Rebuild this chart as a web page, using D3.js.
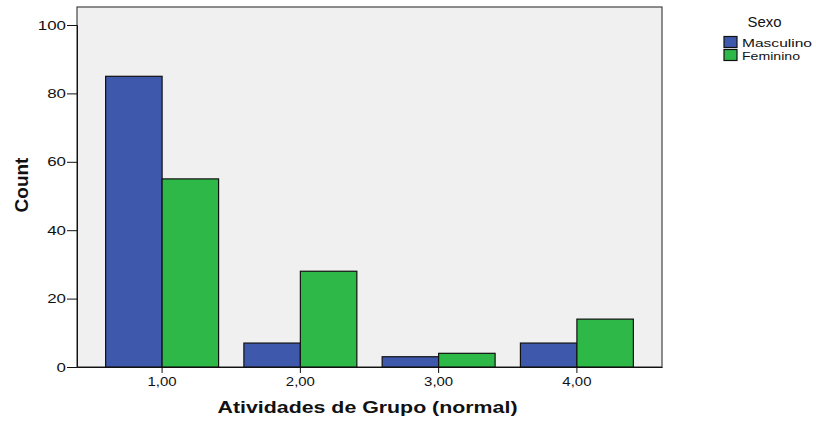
<!DOCTYPE html>
<html><head><meta charset="utf-8">
<script src="https://cdn.jsdelivr.net/npm/d3@7"></script>
<style>body{margin:0;background:#fff}svg{display:block}</style>
</head><body>
<script>
const categories = ["1,00","2,00","3,00","4,00"];
const seriesNames = ["Masculino","Feminino"];
const masculino = [85, 7, 3, 7];
const feminino = [55, 28, 4, 14];
const yTicks = [0,20,40,60,80,100];
const colors = ["#3e58ac","#2eb848"];

const W=816,H=423;
const svg=d3.select("body").append("svg").attr("width",W).attr("height",H);
const L=77,R=662,T=7,B=367;
const font="Liberation Sans, Arial, sans-serif";

svg.append("rect").attr("x",L).attr("y",T).attr("width",R-L).attr("height",B-T)
  .attr("fill","#f0f0f0").attr("stroke","#444").attr("stroke-width",1.2);

const x=d3.scaleBand().domain(categories).range([L,R]).paddingInner(0.183).paddingOuter(0.207);
const xs=d3.scaleBand().domain(seriesNames).range([0,x.bandwidth()]);
const y=d3.scaleLinear().domain([0,100]).range([B,25]);

const data=categories.map((c,i)=>({c,vals:[masculino[i],feminino[i]]}));
const g=svg.append("g");
data.forEach(d=>{
  d.vals.forEach((v,j)=>{
    g.append("rect").attr("x",x(d.c)+xs(seriesNames[j])).attr("y",y(v))
     .attr("width",xs.bandwidth()).attr("height",y(0)-y(v))
     .attr("fill",colors[j]).attr("stroke","#111").attr("stroke-width",1.2);
  });
});

function stretch(sel, k){
  sel.each(function(){
    const w=this.getComputedTextLength();
    d3.select(this).attr("textLength",w*k).attr("lengthAdjust","spacingAndGlyphs");
  });
}

const ya=svg.append("g").attr("transform",`translate(${L},0)`)
  .call(d3.axisLeft(y).tickValues(yTicks).tickSize(10).tickPadding(1));
ya.select(".domain").attr("stroke","#111");
ya.selectAll("line").attr("stroke","#111");
ya.selectAll("text").attr("font-family",font).attr("font-size",13).attr("fill","#111").call(stretch,1.3);

const xa=svg.append("g").attr("transform",`translate(0,${B})`)
  .call(d3.axisBottom(x).tickSize(6).tickPadding(4).tickSizeOuter(0));
xa.select(".domain").attr("stroke","#111");
xa.selectAll("line").attr("stroke","#111");
xa.selectAll("text").attr("font-family",font).attr("font-size",13).attr("fill","#111").call(stretch,1.15);

svg.append("text").attr("x",(L+R)/2-2).attr("y",413).attr("text-anchor","middle")
  .attr("font-family",font).attr("font-weight","bold").attr("font-size",17).attr("fill","#111")
  .text("Atividades de Grupo (normal)").attr("textLength",300).attr("lengthAdjust","spacingAndGlyphs");
svg.append("text").attr("transform",`translate(28,${(T+B)/2-2}) rotate(-90)`).attr("text-anchor","middle")
  .attr("font-family","Liberation Sans Narrow, Liberation Sans, Arial, sans-serif").attr("font-weight","bold")
  .attr("font-size",19).attr("fill","#111").text("Count");

const lg=svg.append("g");
lg.append("text").attr("x",764.5).attr("y",27).attr("text-anchor","middle").attr("font-family",font)
  .attr("font-size",15).attr("fill","#111").text("Sexo").attr("textLength",34).attr("lengthAdjust","spacingAndGlyphs");
const legendW=[70,58];
seriesNames.forEach((s,j)=>{
  lg.append("rect").attr("x",724).attr("y",36.5+j*13).attr("width",13).attr("height",11)
    .attr("fill",colors[j]).attr("stroke","#111").attr("stroke-width",1.2);
  lg.append("text").attr("x",742).attr("y",46.5+j*13).attr("font-family",font).attr("font-size",11)
    .attr("fill","#111").text(s).attr("textLength",legendW[j]).attr("lengthAdjust","spacingAndGlyphs");
});
</script>
</body></html>
